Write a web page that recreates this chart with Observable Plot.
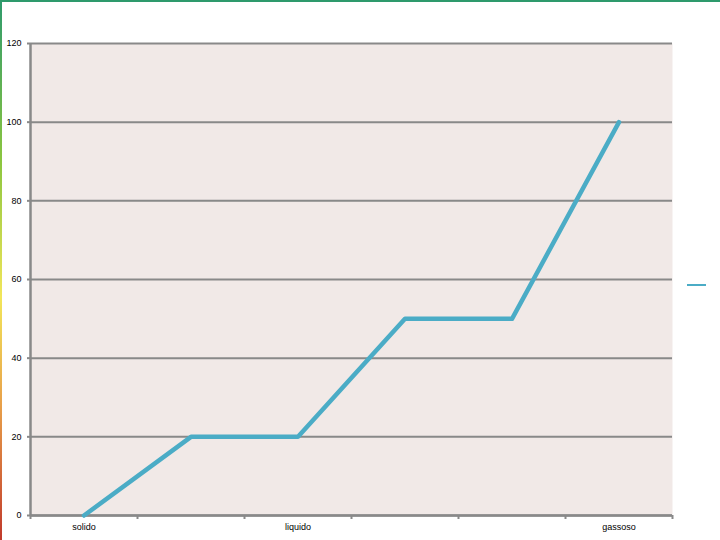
<!DOCTYPE html>
<html>
<head>
<meta charset="utf-8">
<script src="https://cdn.jsdelivr.net/npm/d3@7"></script>
<script src="https://cdn.jsdelivr.net/npm/@observablehq/plot@0.6"></script>
<style>
  html, body { margin: 0; padding: 0; background: #ffffff; }
  #wrap { position: relative; width: 720px; height: 540px; overflow: hidden; }
  #topline { position: absolute; left: 0; top: 0; width: 720px; height: 2px; background: #2e9a6c; }
  #leftline { position: absolute; left: 0; top: 0; width: 2px; height: 540px;
    background: linear-gradient(to bottom, #2e9a6c 0%, #8cc63f 30%, #f2e65a 55%, #e8a04a 75%, #c0392b 100%); }
  #legend { position: absolute; left: 687px; top: 284px; width: 19px; height: 2px; background: #4bacc6; }
</style>
</head>
<body>
<div id="wrap">
  <div id="chart"></div>
  <div id="topline"></div>
  <div id="leftline"></div>
  <div id="legend"></div>
</div>
<script>
const tickLabels = ["solido", "", "liquido", "", "", "gassoso"];
const positions = [0, 1, 2, 3, 4, 5];
const temps = [0, 20, 20, 50, 50, 100];
const yTicks = [0, 20, 40, 60, 80, 100, 120];
const bandEdges = [-0.5, 0.5, 1.5, 2.5, 3.5, 4.5, 5.5];

const gray = "#898989";
const chart = Plot.plot({
  width: 720,
  height: 540,
  marginLeft: 30,
  marginRight: 48,
  marginTop: 43,
  marginBottom: 25,
  style: { fontFamily: "'Liberation Sans', Arial, sans-serif", fontSize: "9px", background: "transparent" },
  x: { type: "linear", domain: [-0.5, 5.5], range: [30, 672] },
  y: { domain: [0, 120] },
  marks: [
    Plot.frame({ fill: "#f1e9e7", stroke: null }),
    Plot.gridY(yTicks, { stroke: gray, strokeOpacity: 1, strokeWidth: 2 }),
    Plot.ruleX([-0.5], { stroke: gray, strokeWidth: 2.5 }),
    Plot.ruleY([0], { stroke: gray, strokeWidth: 2.5 }),
    Plot.axisY({ ticks: yTicks, tickSize: 3, tickPadding: 6, stroke: gray, strokeWidth: 2, tickFormat: d => String(d), fill: "#000", label: null }),
    Plot.axisX({ ticks: bandEdges, tickSize: 4, tickFormat: () => "", stroke: gray, strokeWidth: 2, label: null }),
    Plot.axisX({ ticks: positions, tickSize: 0, tickPadding: 8, tickFormat: i => tickLabels[i], fill: "#000", label: null }),
    Plot.lineY(positions, { x: positions, y: temps, stroke: "#4bacc6", strokeWidth: 4.5 })
  ]
});
document.getElementById("chart").appendChild(chart);
</script>
</body>
</html>
